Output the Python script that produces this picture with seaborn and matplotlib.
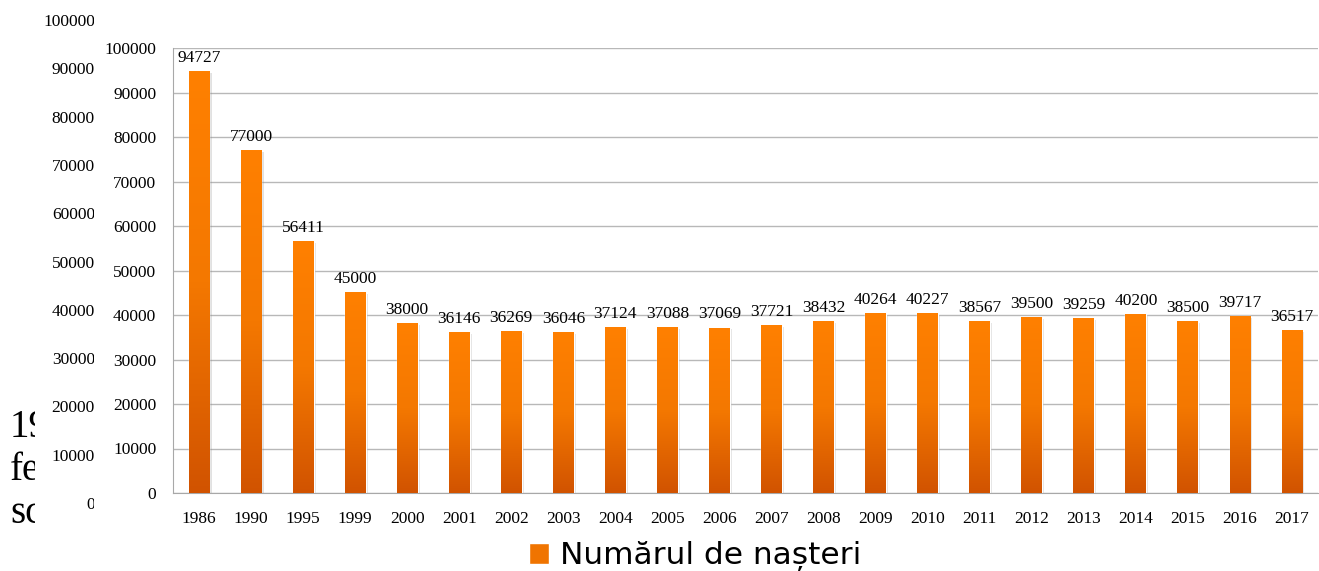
import numpy as np
import matplotlib.pyplot as plt
import seaborn as sns
import matplotlib.patheffects as pe
from matplotlib.colors import LinearSegmentedColormap
from matplotlib.patches import Patch, Rectangle

years = ["1986", "1990", "1995", "1999", "2000", "2001", "2002", "2003", "2004", "2005", "2006",
         "2007", "2008", "2009", "2010", "2011", "2012", "2013", "2014", "2015", "2016", "2017"]
births = [94727, 77000, 56411, 45000, 38000, 36146, 36269, 36046, 37124, 37088, 37069,
          37721, 38432, 40264, 40227, 38567, 39500, 39259, 40200, 38500, 39717, 36517]
y_ticks = [0, 10000, 20000, 30000, 40000, 50000, 60000, 70000, 80000, 90000, 100000]
ghost_words = ["19", "fe", "sc"]
legend_label = "Numărul de nașteri"

sns.set_style("white")
plt.rcParams["font.family"] = ["Liberation Serif", "DejaVu Serif"]
FS = 12.5

W, H = 1319, 571
fig = plt.figure(figsize=(W / 100, H / 100), dpi=100)

# ghost of the chart underneath (clipped on the left)
gax = fig.add_axes([0, (H - 505) / H, 95 / W, (505 - 22) / H])
gax.axis("off")
gax.set_xlim(0, 1); gax.set_ylim(0, 100000)
left_clip = Rectangle((0, 0), 93.5 / W, 1, transform=fig.transFigure)
for v in y_ticks:
    t = gax.text(1, v, str(v), ha="right", va="center", fontsize=FS, color="#000000", clip_on=True)
    t.set_clip_path(left_clip)
word_clip = Rectangle((0, 0), 35 / W, 1, transform=fig.transFigure)
for i, w in enumerate(ghost_words):
    t = fig.text(10 / W, 1 - (437 + 43 * i) / H, w, fontsize=28, va="baseline", color="#000000")
    t.set_clip_path(word_clip)

# main chart
ax = fig.add_axes([173 / W, (H - 493) / H, 1145 / W, 445 / H])
sns.barplot(x=years, y=births, color="#f07400", width=0.4, ax=ax, zorder=2)

cmap = LinearSegmentedColormap.from_list("orng", [(0, "#d15300"), (0.5, "#f47800"), (1, "#ff8000")])
grad = np.linspace(0, 1, 256).reshape(-1, 1)
for bar in ax.patches:
    bar.set_path_effects([pe.SimplePatchShadow(offset=(1.5, -1), alpha=0.25, shadow_rgbFace="#888888"), pe.Normal()])
    x0, w, h = bar.get_x(), bar.get_width(), bar.get_height()
    ax.imshow(grad, cmap=cmap, extent=(x0, x0 + w, 0, h), origin="lower", aspect="auto", zorder=3)

ax.bar_label(ax.containers[0], padding=4, fontsize=FS, color="#000000")

ax.set_xlim(-0.5, len(years) - 0.5)
ax.set_ylim(0, 100000)
ax.set_yticks(y_ticks)
ax.yaxis.grid(True, color="#b8b8b8", lw=1)
ax.xaxis.grid(False)
ax.set_axisbelow(True)
for s in ["top", "right"]:
    ax.spines[s].set_visible(False)
for s in ["left", "bottom"]:
    ax.spines[s].set_color("#a8a8a8")
ax.set_xticks(np.arange(len(years) + 1) - 0.5, minor=True)
ax.tick_params(axis="x", which="major", length=0, pad=13, labelsize=FS, labelcolor="#000000")
ax.tick_params(axis="x", which="minor", length=4, color="#a8a8a8", direction="out")
ax.tick_params(axis="y", length=4, color="#a8a8a8", direction="out", pad=8, labelsize=FS, labelcolor="#000000")
ax.set_xlabel(""); ax.set_ylabel("")

fig.legend(handles=[Patch(facecolor="#f07400", label=legend_label)], loc="center",
           bbox_to_anchor=(0.527, 0.026), frameon=False,
           prop={"family": "DejaVu Sans", "size": 22.5},
           labelcolor="#000000",
           handlelength=0.65, handleheight=0.65, handletextpad=0.35)

plt.savefig("out.png", dpi=100)
